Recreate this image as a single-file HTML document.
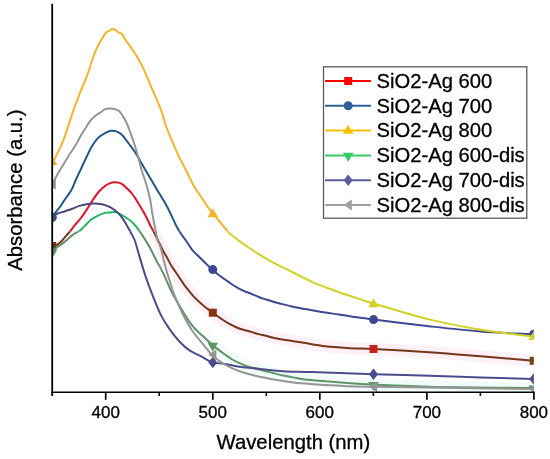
<!DOCTYPE html>
<html><head><meta charset="utf-8"><style>
html,body{margin:0;padding:0;background:#fff;}
svg{display:block;font-family:"Liberation Sans",sans-serif;will-change:transform;}
text{stroke:#000;stroke-width:0.3px;}
</style></head><body>
<svg width="550" height="459" viewBox="0 0 550 459">
<defs>
<clipPath id="cu"><rect x="52.2" y="0" width="481.6" height="231.2"/></clipPath>
<clipPath id="cl"><rect x="52.2" y="231.2" width="481.6" height="161.8"/></clipPath>
</defs>
<rect width="550" height="459" fill="#fff"/>
<g clip-path="url(#cl)" fill="none" stroke-linejoin="round"><path d="M153.90,232.00 C155.20,234.67 156.53,237.43 157.80,240.00 C158.99,242.41 160.22,244.84 161.30,247.00 C162.23,248.86 162.94,250.41 163.90,252.20 C164.95,254.17 166.23,256.20 167.40,258.30 C168.63,260.52 169.83,263.08 171.10,265.20 C172.24,267.11 173.43,268.74 174.60,270.50 C175.76,272.24 176.93,273.97 178.10,275.70 C179.27,277.43 180.44,279.16 181.60,280.90 C182.77,282.66 183.82,284.48 185.10,286.20 C186.42,287.98 187.95,289.67 189.40,291.40 C190.85,293.14 192.00,294.71 193.80,296.60 C196.25,299.17 199.82,302.50 203.00,305.20 C206.15,307.87 209.54,310.29 212.80,312.70 C215.97,315.05 219.32,317.53 222.30,319.50 C224.83,321.18 227.06,322.56 229.50,323.90 C231.90,325.22 234.33,326.47 236.80,327.50 C239.20,328.50 241.65,329.26 244.10,330.00 C246.52,330.73 248.98,331.22 251.40,331.90 C253.82,332.58 256.18,333.45 258.60,334.10 C261.01,334.75 263.47,335.20 265.90,335.80 C268.34,336.40 270.76,337.13 273.20,337.70 C275.63,338.26 278.07,338.76 280.50,339.20 C282.90,339.63 285.29,339.93 287.70,340.30 C290.12,340.67 292.47,341.00 295.00,341.40 C297.75,341.83 300.07,342.23 303.60,342.80 C309.22,343.71 318.19,345.43 325.50,346.30 C332.76,347.16 339.69,347.56 347.30,348.00 C355.63,348.48 363.15,348.50 373.50,349.00 C388.59,349.72 410.90,350.96 429.10,352.20 C446.68,353.40 463.55,354.87 480.90,356.30 C498.42,357.74 516.10,359.30 533.70,360.80" stroke="#fbe3f2" stroke-width="12" opacity="0.5"/><path d="M203.00,336.30 C206.40,339.33 210.25,342.89 213.20,345.40 C215.38,347.25 217.03,348.58 219.00,350.10 C220.97,351.62 222.89,353.00 225.00,354.50 C227.30,356.13 229.83,358.03 232.30,359.50 C234.66,360.91 237.06,362.09 239.50,363.20 C241.90,364.29 244.35,365.25 246.80,366.10 C249.22,366.94 251.24,367.52 254.10,368.30 C258.10,369.40 263.76,370.70 268.60,371.90 C273.46,373.10 278.33,374.45 283.20,375.50 C288.03,376.54 293.69,377.44 297.70,378.20 C300.55,378.74 301.94,379.19 305.00,379.60 C310.09,380.28 318.56,380.66 325.50,381.20 C332.65,381.76 339.70,382.37 347.30,382.90 C355.63,383.48 363.14,383.98 373.50,384.50 C388.58,385.26 407.66,386.14 429.10,386.70 C458.50,387.46 498.83,387.57 533.70,388.00" stroke="#e3f9f5" stroke-width="12" opacity="0.5"/></g><g clip-path="url(#cu)"><path d="M52.20,246.30 C53.37,246.00 54.61,245.86 55.70,245.40 C56.77,244.95 57.69,244.36 58.70,243.60 C59.91,242.69 61.21,241.45 62.40,240.20 C63.68,238.86 64.85,237.23 66.10,235.80 C67.32,234.40 68.59,233.15 69.80,231.70 C71.06,230.19 72.25,228.46 73.50,226.90 C74.72,225.37 75.96,223.89 77.20,222.40 C78.43,220.92 79.57,219.72 80.90,218.00 C82.64,215.74 84.89,212.47 86.60,209.90 C88.11,207.63 89.32,205.57 90.70,203.40 C92.09,201.21 93.39,198.91 94.90,196.80 C96.39,194.71 97.98,192.63 99.70,190.80 C101.36,189.04 103.30,187.26 105.00,186.00 C106.38,184.98 107.45,184.21 109.00,183.60 C110.85,182.87 113.39,182.18 115.50,182.20 C117.52,182.22 119.50,182.62 121.40,183.60 C123.67,184.77 125.98,187.45 127.90,189.30 C129.55,190.90 130.93,192.28 132.30,194.00 C133.75,195.82 134.84,197.70 136.30,200.00 C138.21,203.00 140.84,207.27 142.70,210.50 C144.25,213.19 145.56,215.52 146.80,218.00 C147.98,220.35 148.83,222.69 150.00,225.00 C151.19,227.36 152.63,229.57 153.90,232.00 C155.24,234.56 156.53,237.43 157.80,240.00 C158.99,242.41 160.22,244.84 161.30,247.00 C162.23,248.86 162.94,250.41 163.90,252.20 C164.95,254.17 166.23,256.20 167.40,258.30 C168.63,260.52 169.83,263.08 171.10,265.20 C172.24,267.11 173.43,268.74 174.60,270.50 C175.76,272.24 176.93,273.97 178.10,275.70 C179.27,277.43 180.44,279.16 181.60,280.90 C182.77,282.66 183.82,284.48 185.10,286.20 C186.42,287.98 187.95,289.67 189.40,291.40 C190.85,293.14 192.00,294.71 193.80,296.60 C196.25,299.17 199.82,302.50 203.00,305.20 C206.15,307.87 209.54,310.29 212.80,312.70 C215.97,315.05 219.32,317.53 222.30,319.50 C224.83,321.18 227.06,322.56 229.50,323.90 C231.90,325.22 234.33,326.47 236.80,327.50 C239.20,328.50 241.65,329.26 244.10,330.00 C246.52,330.73 248.98,331.22 251.40,331.90 C253.82,332.58 256.18,333.45 258.60,334.10 C261.01,334.75 263.47,335.20 265.90,335.80 C268.34,336.40 270.76,337.13 273.20,337.70 C275.63,338.26 278.07,338.76 280.50,339.20 C282.90,339.63 285.29,339.93 287.70,340.30 C290.12,340.67 292.47,341.00 295.00,341.40 C297.75,341.83 300.07,342.23 303.60,342.80 C309.22,343.71 318.19,345.43 325.50,346.30 C332.76,347.16 339.69,347.56 347.30,348.00 C355.63,348.48 363.15,348.50 373.50,349.00 C388.59,349.72 410.90,350.96 429.10,352.20 C446.68,353.40 463.55,354.87 480.90,356.30 C498.42,357.74 516.10,359.30 533.70,360.80" fill="none" stroke="#dc1428" stroke-width="2" stroke-linejoin="round"/><rect x="48.2" y="242.0" width="8" height="8" fill="#dc1428"/><rect x="208.8" y="308.7" width="8" height="8" fill="#dc1428"/><rect x="369.5" y="345.0" width="8" height="8" fill="#dc1428"/><rect x="529.7" y="356.8" width="8" height="8" fill="#dc1428"/></g><g clip-path="url(#cl)"><path d="M52.20,246.30 C53.37,246.00 54.61,245.86 55.70,245.40 C56.77,244.95 57.69,244.36 58.70,243.60 C59.91,242.69 61.21,241.45 62.40,240.20 C63.68,238.86 64.85,237.23 66.10,235.80 C67.32,234.40 68.59,233.15 69.80,231.70 C71.06,230.19 72.25,228.46 73.50,226.90 C74.72,225.37 75.96,223.89 77.20,222.40 C78.43,220.92 79.57,219.72 80.90,218.00 C82.64,215.74 84.89,212.47 86.60,209.90 C88.11,207.63 89.32,205.57 90.70,203.40 C92.09,201.21 93.39,198.91 94.90,196.80 C96.39,194.71 97.98,192.63 99.70,190.80 C101.36,189.04 103.30,187.26 105.00,186.00 C106.38,184.98 107.45,184.21 109.00,183.60 C110.85,182.87 113.39,182.18 115.50,182.20 C117.52,182.22 119.50,182.62 121.40,183.60 C123.67,184.77 125.98,187.45 127.90,189.30 C129.55,190.90 130.93,192.28 132.30,194.00 C133.75,195.82 134.84,197.70 136.30,200.00 C138.21,203.00 140.84,207.27 142.70,210.50 C144.25,213.19 145.56,215.52 146.80,218.00 C147.98,220.35 148.83,222.69 150.00,225.00 C151.19,227.36 152.63,229.57 153.90,232.00 C155.24,234.56 156.53,237.43 157.80,240.00 C158.99,242.41 160.22,244.84 161.30,247.00 C162.23,248.86 162.94,250.41 163.90,252.20 C164.95,254.17 166.23,256.20 167.40,258.30 C168.63,260.52 169.83,263.08 171.10,265.20 C172.24,267.11 173.43,268.74 174.60,270.50 C175.76,272.24 176.93,273.97 178.10,275.70 C179.27,277.43 180.44,279.16 181.60,280.90 C182.77,282.66 183.82,284.48 185.10,286.20 C186.42,287.98 187.95,289.67 189.40,291.40 C190.85,293.14 192.00,294.71 193.80,296.60 C196.25,299.17 199.82,302.50 203.00,305.20 C206.15,307.87 209.54,310.29 212.80,312.70 C215.97,315.05 219.32,317.53 222.30,319.50 C224.83,321.18 227.06,322.56 229.50,323.90 C231.90,325.22 234.33,326.47 236.80,327.50 C239.20,328.50 241.65,329.26 244.10,330.00 C246.52,330.73 248.98,331.22 251.40,331.90 C253.82,332.58 256.18,333.45 258.60,334.10 C261.01,334.75 263.47,335.20 265.90,335.80 C268.34,336.40 270.76,337.13 273.20,337.70 C275.63,338.26 278.07,338.76 280.50,339.20 C282.90,339.63 285.29,339.93 287.70,340.30 C290.12,340.67 292.47,341.00 295.00,341.40 C297.75,341.83 300.07,342.23 303.60,342.80 C309.22,343.71 318.19,345.43 325.50,346.30 C332.76,347.16 339.69,347.56 347.30,348.00 C355.63,348.48 363.15,348.50 373.50,349.00 C388.59,349.72 410.90,350.96 429.10,352.20 C446.68,353.40 463.55,354.87 480.90,356.30 C498.42,357.74 516.10,359.30 533.70,360.80" fill="none" stroke="#76361a" stroke-width="2" stroke-linejoin="round"/><rect x="48.2" y="242.0" width="8" height="8" fill="#6e3a14"/><rect x="208.8" y="308.7" width="8" height="8" fill="#8c3012"/><rect x="369.5" y="345.0" width="8" height="8" fill="#c62418"/><rect x="529.7" y="356.8" width="8" height="8" fill="#6e4a14"/></g><g clip-path="url(#cu)"><path d="M52.20,217.50 C53.07,216.13 53.70,214.96 54.80,213.40 C56.38,211.16 59.21,208.03 61.00,205.50 C62.54,203.32 63.50,201.43 65.00,199.20 C66.77,196.58 69.24,193.87 71.00,190.80 C72.88,187.51 74.24,183.43 75.80,180.00 C77.23,176.86 78.46,174.30 80.00,171.00 C81.89,166.95 84.27,161.69 86.30,157.50 C88.09,153.79 89.52,150.39 91.50,147.10 C93.46,143.86 95.69,140.29 98.10,137.90 C100.12,135.89 102.36,134.52 104.60,133.30 C106.70,132.16 109.01,130.96 111.10,130.70 C112.93,130.47 114.70,130.80 116.40,131.40 C118.21,132.04 120.11,133.33 121.60,134.60 C123.02,135.81 123.91,137.19 125.20,138.80 C126.83,140.83 128.75,143.52 130.50,145.90 C132.25,148.28 134.04,150.50 135.70,153.10 C137.52,155.93 139.01,159.03 140.90,162.30 C143.09,166.07 145.57,170.10 148.10,174.40 C150.97,179.29 154.25,185.13 157.20,190.10 C159.90,194.65 162.84,199.08 165.10,203.10 C166.99,206.45 168.31,209.09 170.00,212.50 C171.96,216.46 174.22,221.89 176.10,225.50 C177.49,228.16 178.48,229.96 180.00,232.30 C181.75,235.00 184.09,237.82 186.10,240.70 C188.16,243.65 189.91,246.99 192.20,249.80 C194.48,252.59 197.25,254.95 199.80,257.50 C202.35,260.05 205.20,262.88 207.50,265.10 C209.33,266.87 210.65,268.17 212.50,269.80 C214.66,271.71 217.45,274.08 219.70,275.80 C221.57,277.23 223.15,278.20 225.00,279.50 C227.03,280.93 229.25,282.60 231.40,284.00 C233.48,285.36 235.57,286.63 237.70,287.80 C239.80,288.96 241.94,290.04 244.10,291.00 C246.21,291.94 248.38,292.65 250.50,293.50 C252.61,294.35 254.69,295.25 256.80,296.10 C258.92,296.95 261.06,297.86 263.20,298.60 C265.29,299.32 267.39,299.85 269.50,300.50 C271.63,301.15 273.76,301.90 275.90,302.50 C278.02,303.10 280.17,303.58 282.30,304.10 C284.41,304.61 286.49,305.09 288.60,305.60 C290.73,306.12 292.35,306.63 295.00,307.20 C299.26,308.11 306.48,309.26 311.80,310.20 C316.60,311.05 320.94,311.88 325.50,312.60 C330.04,313.31 334.57,313.82 339.10,314.50 C343.64,315.18 348.15,316.02 352.70,316.70 C357.25,317.38 362.58,318.07 366.40,318.60 C369.15,318.98 370.01,319.14 373.50,319.60 C383.26,320.87 410.88,324.29 429.10,326.30 C446.66,328.24 463.54,330.14 480.90,331.50 C498.40,332.87 516.10,333.50 533.70,334.50" fill="none" stroke="#24588a" stroke-width="2" stroke-linejoin="round"/><circle cx="52.2" cy="217.5" r="4.5" fill="#24588a"/><circle cx="212.8" cy="269.6" r="4.5" fill="#24588a"/><circle cx="373.5" cy="319.6" r="4.5" fill="#24588a"/><circle cx="533.7" cy="334.2" r="4.5" fill="#24588a"/></g><g clip-path="url(#cl)"><path d="M52.20,217.50 C53.07,216.13 53.70,214.96 54.80,213.40 C56.38,211.16 59.21,208.03 61.00,205.50 C62.54,203.32 63.50,201.43 65.00,199.20 C66.77,196.58 69.24,193.87 71.00,190.80 C72.88,187.51 74.24,183.43 75.80,180.00 C77.23,176.86 78.46,174.30 80.00,171.00 C81.89,166.95 84.27,161.69 86.30,157.50 C88.09,153.79 89.52,150.39 91.50,147.10 C93.46,143.86 95.69,140.29 98.10,137.90 C100.12,135.89 102.36,134.52 104.60,133.30 C106.70,132.16 109.01,130.96 111.10,130.70 C112.93,130.47 114.70,130.80 116.40,131.40 C118.21,132.04 120.11,133.33 121.60,134.60 C123.02,135.81 123.91,137.19 125.20,138.80 C126.83,140.83 128.75,143.52 130.50,145.90 C132.25,148.28 134.04,150.50 135.70,153.10 C137.52,155.93 139.01,159.03 140.90,162.30 C143.09,166.07 145.57,170.10 148.10,174.40 C150.97,179.29 154.25,185.13 157.20,190.10 C159.90,194.65 162.84,199.08 165.10,203.10 C166.99,206.45 168.31,209.09 170.00,212.50 C171.96,216.46 174.22,221.89 176.10,225.50 C177.49,228.16 178.48,229.96 180.00,232.30 C181.75,235.00 184.09,237.82 186.10,240.70 C188.16,243.65 189.91,246.99 192.20,249.80 C194.48,252.59 197.25,254.95 199.80,257.50 C202.35,260.05 205.20,262.88 207.50,265.10 C209.33,266.87 210.65,268.17 212.50,269.80 C214.66,271.71 217.45,274.08 219.70,275.80 C221.57,277.23 223.15,278.20 225.00,279.50 C227.03,280.93 229.25,282.60 231.40,284.00 C233.48,285.36 235.57,286.63 237.70,287.80 C239.80,288.96 241.94,290.04 244.10,291.00 C246.21,291.94 248.38,292.65 250.50,293.50 C252.61,294.35 254.69,295.25 256.80,296.10 C258.92,296.95 261.06,297.86 263.20,298.60 C265.29,299.32 267.39,299.85 269.50,300.50 C271.63,301.15 273.76,301.90 275.90,302.50 C278.02,303.10 280.17,303.58 282.30,304.10 C284.41,304.61 286.49,305.09 288.60,305.60 C290.73,306.12 292.35,306.63 295.00,307.20 C299.26,308.11 306.48,309.26 311.80,310.20 C316.60,311.05 320.94,311.88 325.50,312.60 C330.04,313.31 334.57,313.82 339.10,314.50 C343.64,315.18 348.15,316.02 352.70,316.70 C357.25,317.38 362.58,318.07 366.40,318.60 C369.15,318.98 370.01,319.14 373.50,319.60 C383.26,320.87 410.88,324.29 429.10,326.30 C446.66,328.24 463.54,330.14 480.90,331.50 C498.40,332.87 516.10,333.50 533.70,334.50" fill="none" stroke="#3c4894" stroke-width="2" stroke-linejoin="round"/><circle cx="52.2" cy="217.5" r="4.5" fill="#3c4894"/><circle cx="212.8" cy="269.6" r="4.5" fill="#3c4894"/><circle cx="373.5" cy="319.6" r="4.5" fill="#3c4894"/><circle cx="533.7" cy="334.2" r="4.5" fill="#3c4894"/></g><g clip-path="url(#cu)"><path d="M52.20,162.00 C53.13,160.63 54.10,159.42 55.00,157.90 C56.04,156.14 57.02,154.01 58.00,152.00 C59.02,149.92 60.01,147.77 61.00,145.60 C62.01,143.37 63.10,141.12 64.00,138.80 C64.91,136.46 65.60,134.00 66.40,131.60 C67.20,129.20 68.02,126.80 68.80,124.40 C69.58,122.00 70.32,119.60 71.10,117.20 C71.88,114.80 72.51,112.78 73.50,110.00 C74.89,106.09 77.06,100.48 78.80,96.00 C80.42,91.84 82.00,88.00 83.60,84.00 C85.20,80.00 86.96,76.03 88.40,72.00 C89.82,68.03 90.84,63.88 92.20,60.00 C93.51,56.26 94.79,52.61 96.40,49.10 C97.99,45.64 100.00,42.07 101.80,39.10 C103.33,36.57 104.90,33.63 106.40,32.30 C107.31,31.49 108.17,31.40 109.10,30.90 C110.13,30.35 111.21,29.23 112.30,29.10 C113.34,28.98 114.53,29.48 115.50,30.00 C116.50,30.53 117.18,31.67 118.20,32.30 C119.27,32.96 120.80,32.92 121.80,33.80 C122.98,34.84 123.48,36.93 124.50,38.50 C125.60,40.19 126.91,41.80 128.20,43.60 C129.63,45.61 131.22,47.78 132.70,50.00 C134.25,52.33 135.71,54.57 137.30,57.30 C139.24,60.63 141.43,64.50 143.40,68.60 C145.64,73.27 147.72,78.80 149.90,83.90 C152.08,89.00 154.43,94.29 156.50,99.20 C158.41,103.73 160.37,107.93 161.90,112.30 C163.38,116.53 164.07,120.62 165.60,125.00 C167.30,129.88 169.68,135.14 171.80,140.20 C173.94,145.30 176.04,150.51 178.40,155.50 C180.74,160.44 183.40,165.06 185.90,170.00 C188.50,175.12 190.93,180.92 193.70,185.70 C196.19,190.00 198.98,193.57 201.60,197.50 C204.21,201.41 206.54,205.37 209.40,209.20 C212.39,213.20 215.93,217.08 219.20,221.00 C222.46,224.91 225.56,229.32 229.00,232.70 C232.12,235.77 235.49,238.11 238.80,240.60 C242.03,243.03 245.41,245.33 248.60,247.50 C251.57,249.52 254.06,251.16 257.30,253.20 C261.31,255.72 266.32,258.88 270.90,261.40 C275.39,263.87 279.96,265.94 284.50,268.20 C289.06,270.47 293.64,272.73 298.20,275.00 C302.74,277.26 307.22,279.74 311.80,281.80 C316.32,283.83 320.93,285.56 325.50,287.30 C330.03,289.02 334.56,290.61 339.10,292.20 C343.63,293.78 348.16,295.27 352.70,296.80 C357.26,298.34 362.57,300.19 366.40,301.40 C369.14,302.27 370.01,302.48 373.50,303.50 C383.26,306.34 410.80,314.97 429.10,319.40 C446.58,323.63 463.50,326.84 480.90,329.70 C498.37,332.57 516.10,334.30 533.70,336.60" fill="none" stroke="#f2b42a" stroke-width="2" stroke-linejoin="round"/><path d="M52.2,156.0 L57.5,165.0 L46.9,165.0 Z" fill="#f2b42a"/><path d="M212.8,208.2 L218.1,217.2 L207.5,217.2 Z" fill="#f2b42a"/><path d="M373.5,298.2 L378.8,307.2 L368.2,307.2 Z" fill="#f2b42a"/><path d="M533.7,331.0 L539.0,340.0 L528.4,340.0 Z" fill="#f2b42a"/></g><g clip-path="url(#cl)"><path d="M52.20,162.00 C53.13,160.63 54.10,159.42 55.00,157.90 C56.04,156.14 57.02,154.01 58.00,152.00 C59.02,149.92 60.01,147.77 61.00,145.60 C62.01,143.37 63.10,141.12 64.00,138.80 C64.91,136.46 65.60,134.00 66.40,131.60 C67.20,129.20 68.02,126.80 68.80,124.40 C69.58,122.00 70.32,119.60 71.10,117.20 C71.88,114.80 72.51,112.78 73.50,110.00 C74.89,106.09 77.06,100.48 78.80,96.00 C80.42,91.84 82.00,88.00 83.60,84.00 C85.20,80.00 86.96,76.03 88.40,72.00 C89.82,68.03 90.84,63.88 92.20,60.00 C93.51,56.26 94.79,52.61 96.40,49.10 C97.99,45.64 100.00,42.07 101.80,39.10 C103.33,36.57 104.90,33.63 106.40,32.30 C107.31,31.49 108.17,31.40 109.10,30.90 C110.13,30.35 111.21,29.23 112.30,29.10 C113.34,28.98 114.53,29.48 115.50,30.00 C116.50,30.53 117.18,31.67 118.20,32.30 C119.27,32.96 120.80,32.92 121.80,33.80 C122.98,34.84 123.48,36.93 124.50,38.50 C125.60,40.19 126.91,41.80 128.20,43.60 C129.63,45.61 131.22,47.78 132.70,50.00 C134.25,52.33 135.71,54.57 137.30,57.30 C139.24,60.63 141.43,64.50 143.40,68.60 C145.64,73.27 147.72,78.80 149.90,83.90 C152.08,89.00 154.43,94.29 156.50,99.20 C158.41,103.73 160.37,107.93 161.90,112.30 C163.38,116.53 164.07,120.62 165.60,125.00 C167.30,129.88 169.68,135.14 171.80,140.20 C173.94,145.30 176.04,150.51 178.40,155.50 C180.74,160.44 183.40,165.06 185.90,170.00 C188.50,175.12 190.93,180.92 193.70,185.70 C196.19,190.00 198.98,193.57 201.60,197.50 C204.21,201.41 206.54,205.37 209.40,209.20 C212.39,213.20 215.93,217.08 219.20,221.00 C222.46,224.91 225.56,229.32 229.00,232.70 C232.12,235.77 235.49,238.11 238.80,240.60 C242.03,243.03 245.41,245.33 248.60,247.50 C251.57,249.52 254.06,251.16 257.30,253.20 C261.31,255.72 266.32,258.88 270.90,261.40 C275.39,263.87 279.96,265.94 284.50,268.20 C289.06,270.47 293.64,272.73 298.20,275.00 C302.74,277.26 307.22,279.74 311.80,281.80 C316.32,283.83 320.93,285.56 325.50,287.30 C330.03,289.02 334.56,290.61 339.10,292.20 C343.63,293.78 348.16,295.27 352.70,296.80 C357.26,298.34 362.57,300.19 366.40,301.40 C369.14,302.27 370.01,302.48 373.50,303.50 C383.26,306.34 410.80,314.97 429.10,319.40 C446.58,323.63 463.50,326.84 480.90,329.70 C498.37,332.57 516.10,334.30 533.70,336.60" fill="none" stroke="#d2d226" stroke-width="2" stroke-linejoin="round"/><path d="M52.2,156.0 L57.5,165.0 L46.9,165.0 Z" fill="#d2d226"/><path d="M212.8,208.2 L218.1,217.2 L207.5,217.2 Z" fill="#d2d226"/><path d="M373.5,298.2 L378.8,307.2 L368.2,307.2 Z" fill="#d2d226"/><path d="M533.7,331.0 L539.0,340.0 L528.4,340.0 Z" fill="#d2d226"/></g><g clip-path="url(#cu)"><path d="M52.20,251.00 C53.63,249.87 55.18,248.52 56.50,247.60 C57.54,246.87 58.35,246.52 59.40,245.80 C60.76,244.87 62.42,243.58 63.90,242.40 C65.39,241.21 66.91,239.91 68.30,238.70 C69.60,237.58 70.74,236.40 72.00,235.40 C73.21,234.44 74.44,233.55 75.70,232.80 C76.91,232.09 78.13,231.88 79.40,231.00 C81.07,229.85 82.77,227.87 84.60,226.10 C86.70,224.07 88.90,221.33 91.30,219.50 C93.56,217.77 96.11,216.43 98.50,215.30 C100.68,214.27 102.95,213.37 105.00,212.90 C106.75,212.50 108.32,212.55 110.00,212.40 C111.72,212.25 113.50,211.70 115.20,212.00 C117.00,212.32 118.67,213.44 120.50,214.40 C122.59,215.49 124.88,216.83 127.00,218.30 C129.22,219.84 131.54,221.54 133.50,223.50 C135.48,225.47 137.09,227.77 138.80,230.10 C140.60,232.55 142.24,235.12 144.00,237.90 C145.96,240.98 148.32,244.75 150.00,247.80 C151.38,250.30 152.33,252.47 153.50,254.80 C154.67,257.13 155.80,259.56 157.00,261.80 C158.14,263.92 159.36,265.78 160.50,267.90 C161.70,270.14 162.64,272.04 164.00,274.90 C166.09,279.30 168.71,286.13 171.60,291.80 C174.69,297.85 178.51,304.29 182.10,310.10 C185.49,315.59 188.78,321.25 192.50,325.80 C195.80,329.84 199.48,332.97 203.00,336.30 C206.38,339.49 210.25,342.89 213.20,345.40 C215.38,347.25 217.03,348.58 219.00,350.10 C220.97,351.62 222.89,353.00 225.00,354.50 C227.30,356.13 229.83,358.03 232.30,359.50 C234.66,360.91 237.06,362.09 239.50,363.20 C241.90,364.29 244.35,365.25 246.80,366.10 C249.22,366.94 251.24,367.52 254.10,368.30 C258.10,369.40 263.76,370.70 268.60,371.90 C273.46,373.10 278.33,374.45 283.20,375.50 C288.03,376.54 293.69,377.44 297.70,378.20 C300.55,378.74 301.94,379.19 305.00,379.60 C310.09,380.28 318.56,380.66 325.50,381.20 C332.65,381.76 339.70,382.37 347.30,382.90 C355.63,383.48 363.14,383.98 373.50,384.50 C388.58,385.26 407.66,386.14 429.10,386.70 C458.50,387.46 498.83,387.57 533.70,388.00" fill="none" stroke="#26b464" stroke-width="2" stroke-linejoin="round"/><path d="M52.2,258.3 L57.5,249.4 L46.9,249.4 Z" fill="#26b464"/><path d="M212.8,351.7 L218.1,342.8 L207.5,342.8 Z" fill="#26b464"/><path d="M373.5,390.9 L378.8,382.0 L368.2,382.0 Z" fill="#26b464"/><path d="M533.7,394.3 L539.0,385.4 L528.4,385.4 Z" fill="#26b464"/></g><g clip-path="url(#cl)"><path d="M52.20,251.00 C53.63,249.87 55.18,248.52 56.50,247.60 C57.54,246.87 58.35,246.52 59.40,245.80 C60.76,244.87 62.42,243.58 63.90,242.40 C65.39,241.21 66.91,239.91 68.30,238.70 C69.60,237.58 70.74,236.40 72.00,235.40 C73.21,234.44 74.44,233.55 75.70,232.80 C76.91,232.09 78.13,231.88 79.40,231.00 C81.07,229.85 82.77,227.87 84.60,226.10 C86.70,224.07 88.90,221.33 91.30,219.50 C93.56,217.77 96.11,216.43 98.50,215.30 C100.68,214.27 102.95,213.37 105.00,212.90 C106.75,212.50 108.32,212.55 110.00,212.40 C111.72,212.25 113.50,211.70 115.20,212.00 C117.00,212.32 118.67,213.44 120.50,214.40 C122.59,215.49 124.88,216.83 127.00,218.30 C129.22,219.84 131.54,221.54 133.50,223.50 C135.48,225.47 137.09,227.77 138.80,230.10 C140.60,232.55 142.24,235.12 144.00,237.90 C145.96,240.98 148.32,244.75 150.00,247.80 C151.38,250.30 152.33,252.47 153.50,254.80 C154.67,257.13 155.80,259.56 157.00,261.80 C158.14,263.92 159.36,265.78 160.50,267.90 C161.70,270.14 162.64,272.04 164.00,274.90 C166.09,279.30 168.71,286.13 171.60,291.80 C174.69,297.85 178.51,304.29 182.10,310.10 C185.49,315.59 188.78,321.25 192.50,325.80 C195.80,329.84 199.48,332.97 203.00,336.30 C206.38,339.49 210.25,342.89 213.20,345.40 C215.38,347.25 217.03,348.58 219.00,350.10 C220.97,351.62 222.89,353.00 225.00,354.50 C227.30,356.13 229.83,358.03 232.30,359.50 C234.66,360.91 237.06,362.09 239.50,363.20 C241.90,364.29 244.35,365.25 246.80,366.10 C249.22,366.94 251.24,367.52 254.10,368.30 C258.10,369.40 263.76,370.70 268.60,371.90 C273.46,373.10 278.33,374.45 283.20,375.50 C288.03,376.54 293.69,377.44 297.70,378.20 C300.55,378.74 301.94,379.19 305.00,379.60 C310.09,380.28 318.56,380.66 325.50,381.20 C332.65,381.76 339.70,382.37 347.30,382.90 C355.63,383.48 363.14,383.98 373.50,384.50 C388.58,385.26 407.66,386.14 429.10,386.70 C458.50,387.46 498.83,387.57 533.70,388.00" fill="none" stroke="#5f9468" stroke-width="2" stroke-linejoin="round"/><path d="M52.2,258.3 L57.5,249.4 L46.9,249.4 Z" fill="#5f9468"/><path d="M212.8,351.7 L218.1,342.8 L207.5,342.8 Z" fill="#5f9468"/><path d="M373.5,390.9 L378.8,382.0 L368.2,382.0 Z" fill="#5f9468"/><path d="M533.7,394.3 L539.0,385.4 L528.4,385.4 Z" fill="#5f9468"/></g><g clip-path="url(#cu)"><path d="M52.20,217.50 C53.67,216.33 54.79,214.98 56.60,214.00 C58.87,212.77 62.31,212.12 65.00,211.20 C67.50,210.35 69.81,209.58 72.20,208.70 C74.61,207.81 76.97,206.65 79.40,205.90 C81.77,205.16 84.19,204.60 86.60,204.20 C88.96,203.81 91.32,203.53 93.70,203.50 C96.09,203.47 98.85,203.66 100.90,204.00 C102.47,204.26 103.58,204.61 105.00,205.10 C106.60,205.65 108.35,206.34 110.00,207.20 C111.76,208.12 113.53,209.17 115.20,210.50 C117.04,211.96 118.84,213.69 120.50,215.70 C122.37,217.95 124.02,220.76 125.70,223.50 C127.49,226.41 129.33,229.74 130.90,232.70 C132.33,235.39 133.71,237.72 134.80,240.50 C135.97,243.46 136.42,246.05 137.60,250.00 C139.56,256.55 142.74,267.91 145.50,276.10 C148.00,283.52 150.62,290.37 153.30,297.10 C155.83,303.44 158.28,309.91 161.10,315.40 C163.57,320.20 166.04,324.15 169.00,328.40 C172.11,332.86 175.74,337.66 179.40,341.50 C182.74,345.01 186.23,348.25 189.90,350.70 C193.26,352.95 196.81,354.05 200.40,355.90 C204.23,357.87 208.06,360.87 212.20,362.20 C216.27,363.51 220.61,363.17 225.00,363.90 C229.70,364.68 234.64,366.07 239.50,366.80 C244.34,367.53 249.24,367.77 254.10,368.30 C258.94,368.83 263.75,369.52 268.60,370.00 C273.45,370.48 277.84,370.89 283.20,371.20 C289.74,371.57 297.84,371.68 305.00,371.90 C311.94,372.11 317.24,372.23 325.50,372.50 C338.15,372.91 356.91,373.68 373.50,374.20 C391.35,374.76 410.90,375.16 429.10,375.70 C446.67,376.23 463.55,376.85 480.90,377.40 C498.42,377.95 516.10,378.47 533.70,379.00" fill="none" stroke="#454a7c" stroke-width="2" stroke-linejoin="round"/><path d="M52.2,211.8 L56.7,217.5 L52.2,223.2 L47.7,217.5 Z" fill="#454a7c"/><path d="M212.8,356.8 L217.3,362.5 L212.8,368.2 L208.3,362.5 Z" fill="#454a7c"/><path d="M373.5,368.4 L378.0,374.2 L373.5,379.9 L369.0,374.2 Z" fill="#454a7c"/><path d="M533.7,373.2 L538.2,379.0 L533.7,384.8 L529.2,379.0 Z" fill="#454a7c"/></g><g clip-path="url(#cl)"><path d="M52.20,217.50 C53.67,216.33 54.79,214.98 56.60,214.00 C58.87,212.77 62.31,212.12 65.00,211.20 C67.50,210.35 69.81,209.58 72.20,208.70 C74.61,207.81 76.97,206.65 79.40,205.90 C81.77,205.16 84.19,204.60 86.60,204.20 C88.96,203.81 91.32,203.53 93.70,203.50 C96.09,203.47 98.85,203.66 100.90,204.00 C102.47,204.26 103.58,204.61 105.00,205.10 C106.60,205.65 108.35,206.34 110.00,207.20 C111.76,208.12 113.53,209.17 115.20,210.50 C117.04,211.96 118.84,213.69 120.50,215.70 C122.37,217.95 124.02,220.76 125.70,223.50 C127.49,226.41 129.33,229.74 130.90,232.70 C132.33,235.39 133.71,237.72 134.80,240.50 C135.97,243.46 136.42,246.05 137.60,250.00 C139.56,256.55 142.74,267.91 145.50,276.10 C148.00,283.52 150.62,290.37 153.30,297.10 C155.83,303.44 158.28,309.91 161.10,315.40 C163.57,320.20 166.04,324.15 169.00,328.40 C172.11,332.86 175.74,337.66 179.40,341.50 C182.74,345.01 186.23,348.25 189.90,350.70 C193.26,352.95 196.81,354.05 200.40,355.90 C204.23,357.87 208.06,360.87 212.20,362.20 C216.27,363.51 220.61,363.17 225.00,363.90 C229.70,364.68 234.64,366.07 239.50,366.80 C244.34,367.53 249.24,367.77 254.10,368.30 C258.94,368.83 263.75,369.52 268.60,370.00 C273.45,370.48 277.84,370.89 283.20,371.20 C289.74,371.57 297.84,371.68 305.00,371.90 C311.94,372.11 317.24,372.23 325.50,372.50 C338.15,372.91 356.91,373.68 373.50,374.20 C391.35,374.76 410.90,375.16 429.10,375.70 C446.67,376.23 463.55,376.85 480.90,377.40 C498.42,377.95 516.10,378.47 533.70,379.00" fill="none" stroke="#4c4c8c" stroke-width="2" stroke-linejoin="round"/><path d="M52.2,211.8 L56.7,217.5 L52.2,223.2 L47.7,217.5 Z" fill="#4c4c8c"/><path d="M212.8,356.8 L217.3,362.5 L212.8,368.2 L208.3,362.5 Z" fill="#4c4c8c"/><path d="M373.5,368.4 L378.0,374.2 L373.5,379.9 L369.0,374.2 Z" fill="#4c4c8c"/><path d="M533.7,373.2 L538.2,379.0 L533.7,384.8 L529.2,379.0 Z" fill="#4c4c8c"/></g><g clip-path="url(#cu)"><path d="M52.20,184.30 C53.00,182.77 53.70,181.40 54.60,179.70 C55.74,177.56 57.13,174.86 58.50,172.50 C59.87,170.13 61.25,168.05 62.80,165.50 C64.64,162.47 66.68,158.87 68.80,155.50 C71.03,151.97 73.93,148.13 75.90,144.80 C77.54,142.04 78.51,139.59 80.00,137.00 C81.54,134.32 83.30,131.66 85.00,129.00 C86.70,126.33 88.33,123.31 90.20,121.00 C91.86,118.95 93.66,117.18 95.50,115.70 C97.17,114.36 99.11,113.51 100.70,112.40 C102.12,111.41 103.12,110.05 104.60,109.40 C106.14,108.73 108.06,108.53 109.80,108.50 C111.56,108.46 113.50,108.72 115.10,109.20 C116.54,109.63 117.75,110.05 119.00,111.10 C120.73,112.55 122.45,115.41 123.90,117.80 C125.39,120.26 126.62,122.94 127.80,125.70 C129.03,128.59 130.00,131.76 131.10,134.80 C132.20,137.86 133.41,140.93 134.40,144.00 C135.37,147.03 136.14,150.06 137.00,153.10 C137.87,156.16 138.80,159.37 139.60,162.30 C140.33,164.98 140.72,166.98 141.60,170.00 C142.88,174.40 145.35,181.01 146.80,186.10 C148.09,190.61 149.07,194.45 150.00,199.00 C151.03,204.03 151.67,209.76 152.60,215.00 C153.50,220.09 154.64,225.50 155.50,230.00 C156.20,233.67 156.47,237.01 157.40,240.00 C158.21,242.59 159.60,244.39 160.50,247.00 C161.56,250.08 162.24,253.92 163.10,257.40 C163.97,260.89 164.79,264.57 165.70,267.90 C166.53,270.95 167.23,273.20 168.30,276.60 C169.84,281.49 171.94,288.47 174.20,294.40 C176.53,300.51 179.10,306.68 182.10,312.70 C185.18,318.89 188.79,325.54 192.50,331.00 C195.81,335.88 199.56,339.93 203.00,344.10 C206.22,348.00 209.66,352.45 212.50,355.30 C214.49,357.30 216.01,358.50 218.00,360.00 C220.15,361.61 222.60,363.21 225.00,364.60 C227.37,365.97 229.85,367.19 232.30,368.30 C234.69,369.38 236.65,370.21 239.50,371.20 C243.49,372.59 249.22,374.28 254.10,375.50 C258.92,376.71 263.75,377.57 268.60,378.50 C273.45,379.43 278.33,380.33 283.20,381.10 C288.03,381.86 293.68,382.71 297.70,383.10 C300.54,383.37 301.95,383.30 305.00,383.50 C310.11,383.84 318.56,384.65 325.50,385.10 C332.65,385.56 339.70,385.92 347.30,386.20 C355.63,386.51 361.06,386.57 373.50,386.80 C404.25,387.36 480.30,388.27 533.70,389.00" fill="none" stroke="#959595" stroke-width="2" stroke-linejoin="round"/><path d="M47.6,184.0 L55.8,178.6 L55.8,189.4 Z" fill="#959595"/><path d="M208.2,354.8 L216.4,349.4 L216.4,360.2 Z" fill="#959595"/><path d="M368.9,386.8 L377.1,381.4 L377.1,392.2 Z" fill="#959595"/><path d="M529.1,389.0 L537.3,383.6 L537.3,394.4 Z" fill="#959595"/></g><g clip-path="url(#cl)"><path d="M52.20,184.30 C53.00,182.77 53.70,181.40 54.60,179.70 C55.74,177.56 57.13,174.86 58.50,172.50 C59.87,170.13 61.25,168.05 62.80,165.50 C64.64,162.47 66.68,158.87 68.80,155.50 C71.03,151.97 73.93,148.13 75.90,144.80 C77.54,142.04 78.51,139.59 80.00,137.00 C81.54,134.32 83.30,131.66 85.00,129.00 C86.70,126.33 88.33,123.31 90.20,121.00 C91.86,118.95 93.66,117.18 95.50,115.70 C97.17,114.36 99.11,113.51 100.70,112.40 C102.12,111.41 103.12,110.05 104.60,109.40 C106.14,108.73 108.06,108.53 109.80,108.50 C111.56,108.46 113.50,108.72 115.10,109.20 C116.54,109.63 117.75,110.05 119.00,111.10 C120.73,112.55 122.45,115.41 123.90,117.80 C125.39,120.26 126.62,122.94 127.80,125.70 C129.03,128.59 130.00,131.76 131.10,134.80 C132.20,137.86 133.41,140.93 134.40,144.00 C135.37,147.03 136.14,150.06 137.00,153.10 C137.87,156.16 138.80,159.37 139.60,162.30 C140.33,164.98 140.72,166.98 141.60,170.00 C142.88,174.40 145.35,181.01 146.80,186.10 C148.09,190.61 149.07,194.45 150.00,199.00 C151.03,204.03 151.67,209.76 152.60,215.00 C153.50,220.09 154.64,225.50 155.50,230.00 C156.20,233.67 156.47,237.01 157.40,240.00 C158.21,242.59 159.60,244.39 160.50,247.00 C161.56,250.08 162.24,253.92 163.10,257.40 C163.97,260.89 164.79,264.57 165.70,267.90 C166.53,270.95 167.23,273.20 168.30,276.60 C169.84,281.49 171.94,288.47 174.20,294.40 C176.53,300.51 179.10,306.68 182.10,312.70 C185.18,318.89 188.79,325.54 192.50,331.00 C195.81,335.88 199.56,339.93 203.00,344.10 C206.22,348.00 209.66,352.45 212.50,355.30 C214.49,357.30 216.01,358.50 218.00,360.00 C220.15,361.61 222.60,363.21 225.00,364.60 C227.37,365.97 229.85,367.19 232.30,368.30 C234.69,369.38 236.65,370.21 239.50,371.20 C243.49,372.59 249.22,374.28 254.10,375.50 C258.92,376.71 263.75,377.57 268.60,378.50 C273.45,379.43 278.33,380.33 283.20,381.10 C288.03,381.86 293.68,382.71 297.70,383.10 C300.54,383.37 301.95,383.30 305.00,383.50 C310.11,383.84 318.56,384.65 325.50,385.10 C332.65,385.56 339.70,385.92 347.30,386.20 C355.63,386.51 361.06,386.57 373.50,386.80 C404.25,387.36 480.30,388.27 533.70,389.00" fill="none" stroke="#959595" stroke-width="2" stroke-linejoin="round"/><path d="M47.6,184.0 L55.8,178.6 L55.8,189.4 Z" fill="#959595"/><path d="M208.2,354.8 L216.4,349.4 L216.4,360.2 Z" fill="#959595"/><path d="M368.9,386.8 L377.1,381.4 L377.1,392.2 Z" fill="#959595"/><path d="M529.1,389.0 L537.3,383.6 L537.3,394.4 Z" fill="#959595"/></g>
<line x1="52.2" y1="3.8" x2="52.2" y2="396" stroke="#000" stroke-width="1.8"/><line x1="51.3" y1="392.3" x2="534.6" y2="392.3" stroke="#000" stroke-width="1.6"/><line x1="105.7" y1="392" x2="105.7" y2="399.8" stroke="#000" stroke-width="1.7"/><line x1="212.8" y1="392" x2="212.8" y2="399.8" stroke="#000" stroke-width="1.7"/><line x1="319.8" y1="392" x2="319.8" y2="399.8" stroke="#000" stroke-width="1.7"/><line x1="426.9" y1="392" x2="426.9" y2="399.8" stroke="#000" stroke-width="1.7"/><line x1="533.9" y1="392" x2="533.9" y2="399.8" stroke="#000" stroke-width="1.7"/><line x1="159.2" y1="392" x2="159.2" y2="396" stroke="#000" stroke-width="1.6"/><line x1="266.3" y1="392" x2="266.3" y2="396" stroke="#000" stroke-width="1.6"/><line x1="373.3" y1="392" x2="373.3" y2="396" stroke="#000" stroke-width="1.6"/><line x1="480.4" y1="392" x2="480.4" y2="396" stroke="#000" stroke-width="1.6"/>
<text x="105.7" y="418.2" text-anchor="middle" font-size="17">400</text><text x="212.8" y="418.2" text-anchor="middle" font-size="17">500</text><text x="319.8" y="418.2" text-anchor="middle" font-size="17">600</text><text x="426.9" y="418.2" text-anchor="middle" font-size="17">700</text><text x="533.9" y="418.2" text-anchor="middle" font-size="17">800</text><text x="293.4" y="448.9" text-anchor="middle" font-size="20.3">Wavelength (nm)</text><text transform="translate(21.7,190.1) rotate(-90)" text-anchor="middle" font-size="20.3">Absorbance (a.u.)</text>
<rect x="323.5" y="66.8" width="203.3" height="151.4" fill="#fff" stroke="#5a5a5a" stroke-width="1.3"/><line x1="325" y1="81.0" x2="371" y2="81.0" stroke="#ff0000" stroke-width="2"/><rect x="344.2" y="77.0" width="8" height="8" fill="#ff0000"/><text x="376.6" y="87.7" font-size="20.2">SiO2-Ag 600</text><line x1="325" y1="105.8" x2="371" y2="105.8" stroke="#2e5f98" stroke-width="2"/><circle cx="348.2" cy="105.8" r="4.5" fill="#2e5f98"/><text x="376.6" y="112.5" font-size="20.2">SiO2-Ag 700</text><line x1="325" y1="130.6" x2="371" y2="130.6" stroke="#ffc000" stroke-width="2"/><path d="M348.2,124.8 L353.5,133.8 L342.9,133.8 Z" fill="#ffc000"/><text x="376.6" y="137.3" font-size="20.2">SiO2-Ag 800</text><line x1="325" y1="155.4" x2="371" y2="155.4" stroke="#33cc66" stroke-width="2"/><path d="M348.2,161.7 L353.5,152.8 L342.9,152.8 Z" fill="#33cc66"/><text x="376.6" y="162.1" font-size="20.2">SiO2-Ag 600-dis</text><line x1="325" y1="180.2" x2="371" y2="180.2" stroke="#5c5c9c" stroke-width="2"/><path d="M348.2,174.4 L352.7,180.2 L348.2,185.9 L343.7,180.2 Z" fill="#5c5c9c"/><text x="376.6" y="186.9" font-size="20.2">SiO2-Ag 700-dis</text><line x1="325" y1="205.0" x2="371" y2="205.0" stroke="#a0a0a0" stroke-width="2"/><path d="M343.6,205.0 L351.8,199.6 L351.8,210.4 Z" fill="#a0a0a0"/><text x="376.6" y="211.7" font-size="20.2">SiO2-Ag 800-dis</text>
</svg>
</body></html>
